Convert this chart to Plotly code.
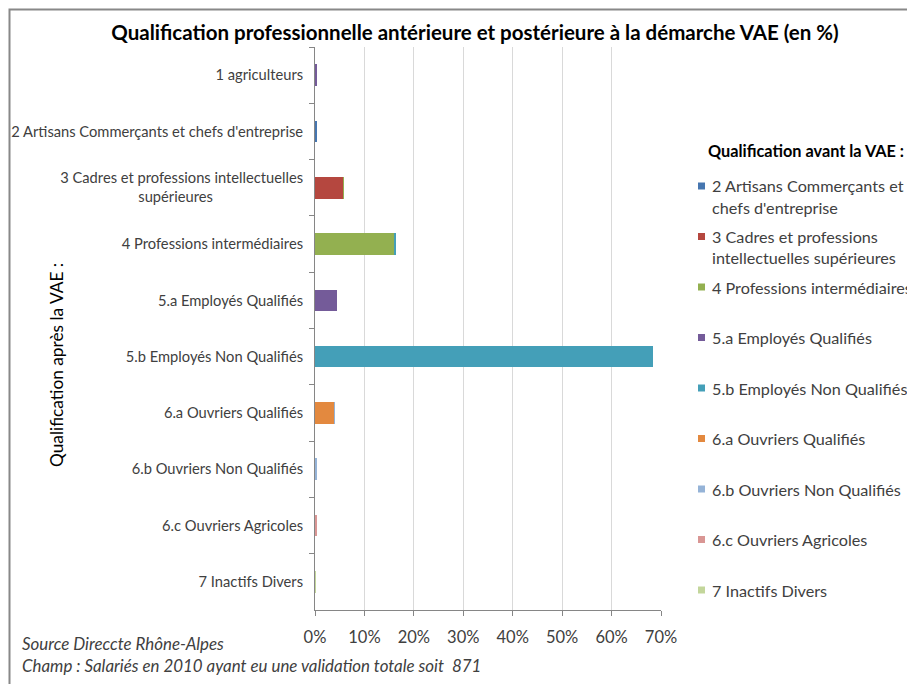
import plotly.graph_objects as go

# ---------------- data ----------------
categories = [
    "1 agriculteurs",
    "2 Artisans Commerçants et chefs d'entreprise",
    "3 Cadres et professions intellectuelles<br>supérieures" + "\u00a0" * 24,
    "4 Professions intermédiaires",
    "5.a Employés Qualifiés",
    "5.b Employés Non Qualifiés",
    "6.a Ouvriers Qualifiés",
    "6.b Ouvriers Non Qualifiés",
    "6.c Ouvriers Agricoles",
    "7 Inactifs Divers",
]

series_names = [
    "2 Artisans Commerçants et chefs d'entreprise",
    "3 Cadres et professions intellectuelles supérieures",
    "4 Professions intermédiaires",
    "5.a Employés Qualifiés",
    "5.b Employés Non Qualifiés",
    "6.a Ouvriers Qualifiés",
    "6.b Ouvriers Non Qualifiés",
    "6.c Ouvriers Agricoles",
    "7 Inactifs Divers",
]
legend_lines = [
    ["2 Artisans Commerçants et", "chefs d'entreprise"],
    ["3 Cadres et professions", "intellectuelles supérieures"],
    ["4 Professions intermédiaires"],
    ["5.a Employés Qualifiés"],
    ["5.b Employés Non Qualifiés"],
    ["6.a Ouvriers Qualifiés"],
    ["6.b Ouvriers Non Qualifiés"],
    ["6.c Ouvriers Agricoles"],
    ["7 Inactifs Divers"],
]

# values (%) per "before" series, for each "after" category (top to bottom)
s_artisans   = [0, 0.45, 0, 0, 0, 0, 0, 0, 0, 0]
s_cadres     = [0, 0, 5.7, 0, 0, 0, 0, 0, 0, 0]
s_prof_int   = [0, 0, 0.12, 16.1, 0, 0, 0, 0, 0, 0]
s_empl_q     = [0.25, 0, 0, 0, 4.45, 0, 0, 0, 0, 0]
s_empl_nq    = [0, 0, 0, 0.35, 0, 68.3, 0, 0, 0, 0]
s_ouv_q      = [0, 0, 0, 0, 0, 0, 3.9, 0, 0, 0]
s_ouv_nq     = [0, 0, 0, 0, 0, 0, 0.12, 0.3, 0, 0]
s_ouv_agri   = [0, 0, 0, 0, 0, 0, 0, 0, 0.45, 0]
s_inactifs   = [0, 0, 0, 0, 0, 0, 0, 0, 0, 0.2]
series_values = [s_artisans, s_cadres, s_prof_int, s_empl_q, s_empl_nq,
                 s_ouv_q, s_ouv_nq, s_ouv_agri, s_inactifs]

x_ticks = [0, 10, 20, 30, 40, 50, 60, 70]
x_tick_labels = ["0%", "10%", "20%", "30%", "40%", "50%", "60%", "70%"]

colors = ["#4676B0", "#B5473F", "#93B050", "#745B99", "#449FB8",
          "#E3893F", "#95B3D7", "#D99694", "#C3D69B"]

# ---------------- layout geometry ----------------
OFF = 8                     # page body margin
W, H = 915 - OFF, 684 - OFF
PLOT_L, PLOT_R, PLOT_T, PLOT_B = 315, 661, 47, 610   # in window pixels
L = PLOT_L - OFF
T = PLOT_T - OFF
R = W - (PLOT_R - OFF)
B = H - (PLOT_B - OFF)
PW, PH = W - L - R, H - T - B


def px(x):
    return (x - OFF - L) / PW


def py(y):
    return (H - B - (y - OFF)) / PH


FONT = "Lato"
TXT = "#404040"

fig = go.Figure()
for name, vals, col in zip(series_names, series_values, colors):
    fig.add_trace(go.Bar(
        y=categories, x=vals, name=name, orientation="h",
        marker=dict(color=col, line=dict(width=0)),
        showlegend=False,
    ))

annotations = []
shapes = []

# Legend (manual, to match spacing)
annotations.append(dict(
    text="<b>Qualification avant la VAE :</b>", xref="paper", yref="paper",
    x=px(706), y=py(150), xanchor="left", yanchor="middle", showarrow=False,
    font=dict(family=FONT, size=16.3, color="#000000")))
for i, (lines, col) in enumerate(zip(legend_lines, colors)):
    yc = 186 + i * 50.5
    shapes.append(dict(type="rect", xref="paper", yref="paper",
                       x0=px(698), x1=px(705), y0=py(yc - 3.5), y1=py(yc + 3.5),
                       fillcolor=col, line=dict(width=0)))
    for j, ln in enumerate(lines):
        annotations.append(dict(
            text=ln, xref="paper", yref="paper",
            x=px(710), y=py(yc + j * 21.5), xanchor="left", yanchor="middle",
            showarrow=False, font=dict(family=FONT, size=16.2, color=TXT)))

# Y axis title
annotations.append(dict(
    text="Qualification après la VAE :", xref="paper", yref="paper",
    x=px(56), y=py(365), xanchor="center", yanchor="middle", textangle=-90,
    showarrow=False, font=dict(family=FONT, size=17.3, color="#000000")))

# Source notes
annotations.append(dict(
    text="<i>Source Direccte Rhône-Alpes</i>", xref="paper", yref="paper",
    x=px(20), y=py(643), xanchor="left", yanchor="middle", showarrow=False,
    font=dict(family=FONT, size=16.9, color=TXT)))
annotations.append(dict(
    text="<i>Champ : Salariés en 2010 ayant eu une validation totale soit  871</i>",
    xref="paper", yref="paper",
    x=px(20), y=py(665), xanchor="left", yanchor="middle", showarrow=False,
    font=dict(family=FONT, size=16.9, color=TXT)))

# Chart border (top and left edges visible; figure starts at window x/y = 8)
shapes.append(dict(type="rect", xref="paper", yref="paper",
                   x0=px(9.5), x1=px(W + 40), y0=py(H + 40), y1=py(9.5),
                   line=dict(color="#888888", width=2), fillcolor="rgba(0,0,0,0)",
                   layer="below"))

fig.update_layout(
    barmode="stack",
    bargap=0.615,
    width=W, height=H,
    margin=dict(l=L, r=R, t=T, b=B, autoexpand=False),
    paper_bgcolor="white", plot_bgcolor="white",
    title=dict(text="<b>Qualification professionnelle antérieure et postérieure à la démarche VAE (en %)</b>",
               xref="container", yref="container",
               x=(475 - OFF) / W, xanchor="center", y=1 - (33 - OFF) / H, yanchor="middle",
               font=dict(family=FONT, size=20.5, color="#000000")),
    xaxis=dict(range=[0, 70], tickvals=x_ticks, ticktext=x_tick_labels,
               automargin=False,
               showgrid=True, gridcolor="#D9D9D9", gridwidth=1,
               zeroline=False, showline=True, linecolor="#868686", linewidth=1,
               ticks="outside", ticklen=5, tickcolor="#868686",
               ticklabelstandoff=7,
               tickfont=dict(family=FONT, size=16.5, color=TXT)),
    yaxis=dict(categoryorder="array", categoryarray=categories,
               autorange="reversed", showgrid=False, zeroline=False,
               automargin=False,
               showline=True, linecolor="#868686", linewidth=1,
               ticks="outside", ticklen=5, tickcolor="#868686",
               tickson="boundaries", ticklabelstandoff=8,
               tickfont=dict(family=FONT, size=14.7, color=TXT)),
    font=dict(family=FONT),
    annotations=annotations,
    shapes=shapes,
)

fig.write_html("out.html")
